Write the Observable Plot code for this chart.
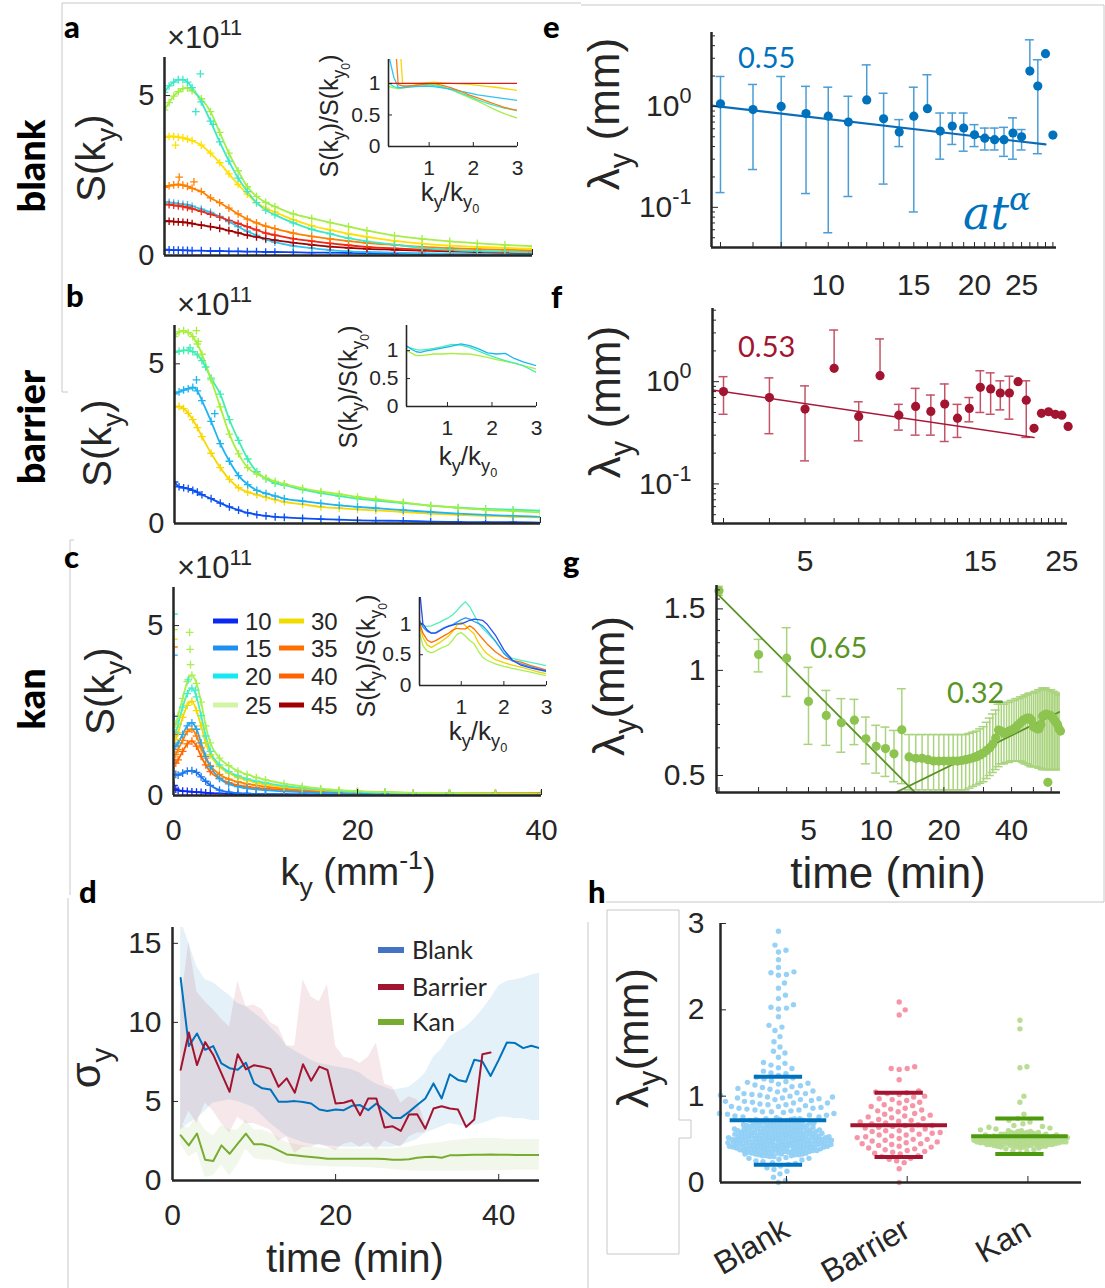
<!DOCTYPE html>
<html><head><meta charset="utf-8">
<script src="https://cdn.jsdelivr.net/npm/d3@7"></script>
<script src="https://cdn.jsdelivr.net/npm/@observablehq/plot@0.6"></script>
<style>
html,body{margin:0;padding:0;background:#fff;}
#root{position:relative;width:1105px;height:1288px;overflow:hidden;background:#fff;}
#root svg{position:absolute;overflow:visible;}
</style></head><body><div id="root"></div>
<script>
// ================= DATA =================
const kAB = [0,0.5,1,1.5,2,2.5,3,4,5,6,7,8,9,10,11,12,14,16,18,20,22,25,28,31,34,37,40];
const aBlue   = [0.18,0.18,0.17,0.17,0.16,0.16,0.15,0.15,0.14,0.14,0.13,0.13,0.12,0.12,0.11,0.11,0.1,0.09,0.09,0.08,0.07,0.06,0.05,0.05,0.04,0.04,0.03];
const aLBlue  = [1.67,1.66,1.64,1.62,1.6,1.58,1.54,1.45,1.35,1.22,1.06,0.9,0.76,0.63,0.5,0.42,0.3,0.23,0.17,0.13,0.11,0.09,0.07,0.06,0.06,0.05,0.05];
const aDark   = [1.07,1.07,1.06,1.05,1.04,1.03,1.0,0.95,0.9,0.85,0.78,0.71,0.64,0.58,0.53,0.48,0.4,0.33,0.28,0.24,0.21,0.18,0.15,0.13,0.11,0.09,0.08];
const aRed    = [1.6,1.59,1.57,1.55,1.53,1.5,1.46,1.38,1.29,1.2,1.1,1.0,0.9,0.8,0.7,0.64,0.53,0.45,0.38,0.32,0.27,0.22,0.18,0.15,0.13,0.11,0.10];
const aOrange = [2.13,2.18,2.21,2.22,2.2,2.16,2.1,2.0,1.8,1.65,1.48,1.3,1.14,1.02,0.92,0.84,0.7,0.6,0.52,0.45,0.39,0.33,0.27,0.23,0.2,0.18,0.16];
const aYellow = [3.7,3.72,3.72,3.7,3.68,3.64,3.59,3.45,3.2,2.9,2.55,2.22,1.92,1.65,1.48,1.36,1.12,0.93,0.8,0.68,0.58,0.46,0.37,0.31,0.27,0.24,0.21];
const aLime   = [4.55,4.78,4.98,5.12,5.22,5.24,5.15,4.9,4.5,3.85,3.2,2.65,2.15,1.85,1.66,1.53,1.3,1.16,1.03,0.9,0.78,0.62,0.52,0.44,0.38,0.33,0.29];
const aTeal   = [5.1,5.3,5.42,5.5,5.5,5.42,5.25,4.8,4.2,3.55,2.95,2.42,2.0,1.65,1.42,1.27,1.02,0.82,0.68,0.54,0.44,0.34,0.24,0.18,0.14,0.12,0.10];
const aExtraK = [3.9,3.4,5.3,1.2,1.6,3.2];
const aExtraV = [5.68,4.5,4.1,3.45,2.45,2.3];
const bBlue   = [1.3,1.15,1.12,1.09,1.04,0.98,0.9,0.78,0.64,0.52,0.42,0.33,0.28,0.24,0.21,0.19,0.16,0.14,0.12,0.1,0.09,0.08,0.06,0.05,0.04,0.04,0.03];
const bYellow = [3.65,3.67,3.6,3.45,3.25,3.0,2.72,2.2,1.75,1.38,1.12,0.98,0.9,0.82,0.75,0.68,0.6,0.52,0.48,0.44,0.41,0.36,0.31,0.27,0.24,0.21,0.19];
const bLBlue  = [4.06,4.12,4.18,4.22,4.26,4.15,3.85,3.2,2.5,1.95,1.5,1.22,1.04,0.94,0.86,0.78,0.7,0.63,0.57,0.52,0.48,0.42,0.36,0.31,0.27,0.24,0.21];
const bTeal   = [5.36,5.4,5.42,5.42,5.38,5.28,5.1,4.55,4.05,3.25,2.6,2.02,1.62,1.4,1.26,1.2,1.06,0.95,0.86,0.78,0.72,0.64,0.56,0.5,0.46,0.43,0.40];
const bLime   = [5.85,6.0,6.04,5.98,5.85,5.62,5.3,4.5,3.65,2.8,2.18,1.75,1.55,1.42,1.32,1.24,1.1,1.0,0.92,0.83,0.76,0.66,0.56,0.49,0.43,0.39,0.35];
const bExtraK = [2.4,2.6,1.7,3.4,2.4,4.4];
const bExtraV = [6.04,5.7,5.5,4.9,4.5,3.44];
const kC = [0.25,0.5,1,1.5,2,2.5,3,3.5,4,5,6,7,8,9,10,12,14,16,18,20,23,26,30,35,40];
const cBlue    = [0.19,0.15,0.13,0.12,0.11,0.1,0.09,0.08,0.07,0.06,0.05,0.04,0.04,0.03,0.03,0.03,0.02,0.02,0.02,0.02,0.02,0.02,0.02,0.02,0.02];
const cBlueMid = [0.62,0.6,0.66,0.72,0.73,0.68,0.55,0.42,0.3,0.16,0.1,0.07,0.06,0.05,0.05,0.04,0.04,0.04,0.03,0.03,0.03,0.03,0.03,0.03,0.03];
const cOrange35= [0.95,1.05,1.3,1.52,1.6,1.45,1.15,0.9,0.7,0.5,0.38,0.3,0.26,0.22,0.2,0.16,0.13,0.11,0.1,0.09,0.08,0.07,0.07,0.06,0.06];
const cOrange40= [1.2,1.35,1.62,1.88,1.95,1.75,1.4,1.1,0.88,0.62,0.48,0.4,0.34,0.3,0.26,0.2,0.16,0.13,0.11,0.1,0.09,0.08,0.07,0.07,0.07];
const cLBlue   = [1.45,1.55,1.8,2.05,2.14,1.95,1.55,1.15,0.85,0.5,0.34,0.26,0.21,0.18,0.16,0.12,0.1,0.08,0.07,0.06,0.05,0.05,0.04,0.04,0.04];
const cYellow  = [1.65,1.85,2.3,2.65,2.77,2.5,2.05,1.55,1.2,0.85,0.66,0.53,0.45,0.38,0.33,0.25,0.2,0.16,0.13,0.11,0.09,0.07,0.06,0.05,0.05];
const cTeal    = [1.85,2.1,2.6,3.0,3.16,2.9,2.35,1.75,1.3,0.9,0.7,0.58,0.49,0.42,0.37,0.28,0.22,0.17,0.13,0.11,0.09,0.07,0.06,0.05,0.05];
const cLime    = [2.1,2.35,2.86,3.35,3.54,3.3,2.75,2.05,1.55,1.1,0.88,0.72,0.62,0.53,0.46,0.35,0.27,0.2,0.16,0.13,0.1,0.08,0.07,0.06,0.05];
const cExtraK = [0.05,0.05,0.05,0.05,0.05,0.05,0.05,0.05,1.75,1.8,1.85,1.6,2.4];
const cExtraV = [5.34,4.88,4.6,4.37,4.13,2.33,1.8,0.3,4.8,4.3,3.85,3.4,3.1];
const insAB = [0.1,0.2,0.3,0.4,0.5,0.7,0.9,1.1,1.3,1.5,1.7,1.9,2.1,2.3,2.5,2.7,3.0];
const iaRed    = [1,1,1,1,1,1,1,1,1,1,1,1,1,1,1,1,1];
const iaYellow = [2,2,2,1.0,1.0,1.0,1.01,1.02,1.01,1.0,0.995,0.985,0.97,0.955,0.94,0.92,0.89];
const iaOrange = [2,2,0.98,0.96,0.96,0.97,0.99,1.0,0.97,0.93,0.88,0.82,0.77,0.72,0.67,0.62,0.57];
const iaLBlue  = [1.4,1.1,0.94,0.93,0.94,0.95,0.96,0.95,0.93,0.91,0.88,0.85,0.82,0.8,0.78,0.76,0.73];
const iaTeal   = [1.0,0.95,0.93,0.94,0.95,0.97,0.98,0.97,0.94,0.9,0.85,0.8,0.74,0.69,0.65,0.61,0.57];
const iaLime   = [0.95,0.93,0.92,0.93,0.95,0.98,0.99,0.98,0.95,0.9,0.84,0.78,0.72,0.65,0.58,0.52,0.45];
const ibLBlue  = [1.08,1.02,0.98,0.97,0.99,1.02,1.05,1.08,1.12,1.09,1.03,0.96,0.94,0.95,0.86,0.8,0.73];
const ibTeal   = [1.06,1.04,1.02,1.01,1.02,1.04,1.07,1.11,1.1,1.06,0.99,0.93,0.87,0.82,0.78,0.73,0.61];
const ibLime   = [1.0,0.95,0.91,0.91,0.92,0.94,0.94,0.95,0.94,0.94,0.91,0.88,0.84,0.81,0.77,0.73,0.67];
const insC = [0.03,0.1,0.2,0.3,0.4,0.5,0.6,0.7,0.8,0.9,1.0,1.1,1.2,1.3,1.4,1.5,1.6,1.8,2.0,2.2,2.4,2.6,2.8,3.0];
const icBlue   = [1.5,1.0,0.9,0.85,0.85,0.89,0.93,0.96,0.98,1.0,1.0,1.03,1.06,1.08,1.07,1.06,1.0,0.82,0.58,0.41,0.33,0.29,0.26,0.23];
const icLBlue  = [1.05,0.95,0.88,0.85,0.86,0.9,0.94,0.97,0.99,1.03,1.07,1.1,1.08,1.04,1.01,0.97,0.9,0.72,0.52,0.4,0.35,0.31,0.27,0.24];
const icTeal   = [1.0,0.97,0.96,0.97,1.0,1.03,1.07,1.1,1.15,1.22,1.3,1.36,1.28,1.15,1.02,0.93,0.86,0.72,0.53,0.44,0.41,0.38,0.35,0.32];
const icOrange = [1.0,0.85,0.74,0.7,0.73,0.77,0.81,0.85,0.9,0.93,0.92,0.92,0.97,0.92,0.84,0.76,0.68,0.55,0.45,0.41,0.38,0.33,0.29,0.25];
const icYellow = [0.95,0.78,0.66,0.62,0.66,0.7,0.75,0.8,0.88,0.98,1.03,0.97,0.9,0.84,0.7,0.6,0.52,0.42,0.37,0.33,0.3,0.26,0.22,0.19];
const icLime   = [0.84,0.65,0.56,0.53,0.56,0.6,0.63,0.66,0.74,0.83,0.86,0.8,0.73,0.68,0.56,0.46,0.41,0.35,0.31,0.28,0.25,0.22,0.19,0.16];
const legendTimes = ["10","15","20","25","30","35","40","45"];
const legendColors = ["#0A28F0","#1E90F0","#14E8F0","#D2F5A5","#F0DC00","#FF6E00","#FF6400","#A00000"];
const dTime = [1,2,3,4,5,6,7,8,9,10,11,12,13,14,15,16,17,18,19,20,21,22,23,24,25,26,27,28,29,30,31,32,33,34,35,36,37,38,39,40,41,42,43,44,45];
const blankMean = [12.8,8.5,9.3,8.26,8.5,7.4,7.1,7.0,7.45,6.14,5.83,5.76,4.98,4.98,5.02,4.96,4.87,4.49,4.4,4.49,4.45,4.72,4.77,4.45,4.87,4.41,3.96,3.96,4.34,4.77,5.19,6.14,5.19,6.72,6.36,6.25,7.63,7.52,6.61,7.63,8.73,8.69,8.37,8.52,8.37];
const blankUp   = [16.5,15,13.5,12.7,12.5,12.1,11.7,11.2,11.0,10.6,10.2,9.7,9.2,8.5,8.2,7.9,7.6,7.4,7.3,7.2,7.1,7.0,6.8,6.4,6.1,5.9,5.7,5.8,5.9,6.3,6.8,7.8,8.3,9.1,9.4,9.7,10.2,10.8,11.5,12.3,12.6,12.7,12.8,13.0,13.1];
const blankLo   = [3.2,3.6,3.9,4.4,4.9,5.0,5.1,5.0,4.8,4.6,4.1,3.6,3.2,2.8,2.6,2.4,2.3,2.25,2.2,2.15,2.1,2.1,2.1,2.1,2.1,2.1,2.1,2.2,2.4,2.6,3.0,3.2,3.4,3.6,3.5,3.4,3.5,3.6,3.8,4.0,4.0,3.9,3.9,3.8,3.8];
const barrierMean = [7.0,9.36,7.3,8.75,7.94,6.78,5.61,7.99,7.03,7.29,7.2,7.06,5.93,6.46,5.55,7.35,6.31,7.2,6.99,4.87,4.92,5.08,4.13,5.19,5.19,3.35,3.43,3.14,4.17,4.19,3.28,4.55,4.70,4.55,4.49,3.39,3.86,7.99,8.09];
const barrierUp   = [11.0,15.1,11.9,11.3,10.8,10.2,9.7,12.6,11.0,11.1,10.8,10.0,9.7,8.5,8.5,12.7,11.6,11.3,12.4,8.5,7.8,7.7,7.4,7.8,8.7,6.1,5.9,4.9,5.3,5.1,3.6];
const barrierLo   = [3.2,4.4,3.6,4.9,4.4,3.6,3.0,4.0,3.6,3.6,3.4,3.2,2.5,2.75,1.7,2.1,2.1,2.3,2.1,1.9,2.3,2.4,2.1,2.4,1.9,2.5,2.3,2.1,2.75,3.0,3.0];
const kanMean = [2.86,2.22,2.97,1.31,1.23,2.22,1.69,2.33,2.97,2.29,2.29,2.16,1.91,1.65,1.59,1.53,1.48,1.44,1.38,1.38,1.38,1.38,1.38,1.38,1.38,1.36,1.31,1.31,1.34,1.44,1.48,1.5,1.44,1.59,1.6,1.62,1.63,1.63,1.64,1.63,1.63,1.62,1.62,1.62,1.62];
const kanUp   = [3.5,3.3,4.0,3.2,2.8,3.5,3.2,3.2,3.8,3.2,3.2,3.0,2.7,2.4,2.3,2.2,2.1,2.05,2.0,2.0,2.0,2.0,2.0,2.0,2.0,2.0,2.0,2.05,2.1,2.2,2.3,2.35,2.4,2.5,2.55,2.6,2.65,2.65,2.65,2.65,2.6,2.6,2.6,2.6,2.6];
const kanLo   = [2.3,1.5,1.8,0.2,0.3,1.0,0.3,1.0,2.0,1.4,1.3,1.3,1.2,1.05,1.0,0.95,0.92,0.9,0.88,0.86,0.85,0.84,0.82,0.8,0.78,0.75,0.7,0.65,0.62,0.6,0.6,0.6,0.6,0.6,0.6,0.6,0.62,0.62,0.63,0.63,0.64,0.65,0.65,0.65,0.65];
const dGroups = ["Blank","Barrier","Kan"];
const eT  = [6,7,8,9,10,11,12,13,14,15,16,17,18,19,20,21,22,23,24,25,26,27,28,29];
const eV  = [1.06,0.93,1.0,0.85,0.80,0.70,1.16,0.755,0.557,0.80,0.95,0.57,0.64,0.61,0.524,0.485,0.468,0.468,0.545,0.50,2.24,1.59,3.33,0.52];
const eHi = [1.98,1.65,1.98,1.58,1.55,1.26,2.58,1.35,0.74,1.55,2.06,0.86,0.86,0.86,0.66,0.61,0.61,0.62,0.77,0.59,4.57,2.9,null,null];
const eLo = [0.14,0.237,0.03,0.137,0.056,0.128,null,0.17,0.40,0.09,null,0.30,0.42,0.36,0.40,0.37,0.37,0.32,0.30,0.37,null,0.34,null,null];
const eFitT = [5.75,28]; const eFitV = [1.02,0.42];
const eXLabels = [10,15,20,25];
const fT  = [3,4,5,6,7,8,9,10,11,12,13,14,15,16,17,18,19,20,21,22,23,24,25,26];
const fV  = [0.80,0.70,0.54,1.35,0.457,1.145,0.47,0.573,0.512,0.604,0.44,0.548,0.88,0.85,0.775,0.775,1.0,0.66,0.35,0.49,0.508,0.48,0.47,0.365];
const fHi = [1.12,1.09,0.91,3.2,0.636,2.62,0.60,0.86,0.74,0.95,0.60,0.70,1.28,1.22,1.02,1.13,null,1.02,null,null,null,null,null,null];
const fLo = [0.48,0.31,0.168,null,0.264,null,0.336,0.30,0.30,0.26,0.285,0.405,0.50,0.48,0.53,0.43,null,0.285,null,null,null,null,null,null];
const fFitT = [2.8,21]; const fFitV = [0.83,0.285];
const fXTicks = [3,4,5,6,7,8,9,10,11,12,13,14,15,16,17,18,19,20,21,22,23,24,25];
const fXLabels = [5,15,25];
const gT  = [2,3,4,5,6,7,8,9,10,11,12,13,14,15,16,17,18,19,20,21,22,23,24,25,26,27,28,29,30,31,32,33,34,35,36,37,38,39,40,41,42,43,44,45,46,47,48,49,50,51,52,53,54,55,56,57,58,59,60,61,62,63,64,65,66];
const gV  = [1.69,1.11,1.084,0.815,0.743,0.708,0.72,0.637,0.606,0.597,0.577,0.676,
  0.565,0.56,0.56,0.555,0.55,0.55,0.55,0.55,0.55,0.55,0.552,0.555,0.558,0.562,0.566,0.572,0.58,0.59,0.60,0.615,0.64,0.675,0.67,0.66,0.665,0.67,0.675,0.68,0.69,0.70,0.71,0.72,0.725,0.73,0.73,0.72,0.69,0.685,0.68,0.68,0.70,0.74,0.745,0.75,0.478,0.745,0.74,0.73,0.72,0.71,0.70,0.68,0.67];
const gHi = [1.74,1.227,1.325,1.02,0.876,0.83,0.826,0.735,0.696,0.688,0.673,0.886,
  0.655,0.655,0.655,0.655,0.655,0.655,0.655,0.655,0.655,0.655,0.655,0.655,0.66,0.665,0.67,0.68,0.69,0.71,0.73,0.75,0.77,0.8,0.8,0.8,0.81,0.81,0.82,0.82,0.83,0.83,0.84,0.84,0.85,0.85,0.86,0.86,0.86,0.87,0.87,0.88,0.88,0.89,0.89,0.89,0.88,0.88,0.88,0.87,0.87,0.86,0.86,0.85,0.85];
const gLo = [1.64,0.99,0.842,0.614,0.61,0.583,0.613,0.54,0.508,0.497,0.48,0.474,
  0.455,0.455,0.455,0.455,0.455,0.455,0.455,0.455,0.455,0.455,0.455,0.455,0.46,0.465,0.47,0.475,0.48,0.49,0.5,0.51,0.52,0.53,0.54,0.54,0.545,0.545,0.55,0.55,0.55,0.55,0.55,0.545,0.54,0.54,0.535,0.53,0.53,0.53,0.53,0.525,0.525,0.52,0.52,0.52,0.52,0.52,0.52,0.52,0.52,0.52,0.52,0.52,0.52];
const gFit1T = [2,14.8]; const gFit1V = [1.64,0.449];
const gFit2T = [12.4,65.2]; const gFit2V = [0.449,0.76];
const gXTicks = [2,3,4,5,6,7,8,9,10,20,30,40,50,60];
const gXLabels = [5,10,20,40];
const hNames = ["Blank","Barrier","Kan"];
const hBlankTail = [2.91,2.75,2.69,2.67,2.58,2.49,2.44,2.43,2.41,2.40,2.31,2.25,2.17,2.13,2.06,2.03,2.02,2.01,1.92,1.82,1.80,1.76,1.69,1.63,1.57,1.52,1.50,1.45,1.39,1.38,1.36,1.33,1.32,1.29,1.27,1.26,1.24,1.22,1.21,1.20,1.18,1.17,1.16,1.15,1.14,1.13,1.12,1.11,1.10,1.09,1.08,1.07,1.06,1.05,1.04,1.03,1.03,1.02,1.01,1.01,1.00,0.99,0.99,0.98,0.98,0.97,0.96,0.96,0.95,0.94,0.94,0.93,0.92,0.92,0.91,0.90,0.90,0.89,0.88,0.88,0.87,0.86,0.86,0.85,0.84,0.84,0.83,0.82,0.82,0.81,0.80,0.80,0.79,0.78,0.78,0.77,0.76,0.76,0.75];
const hBlankDense = [[0.30,2],[0.31,3],[0.32,3],[0.33,4],[0.34,4],[0.35,4],[0.36,5],[0.37,5],[0.38,5],[0.39,5],[0.40,6],[0.41,6],[0.42,6],[0.43,6],[0.44,6],[0.45,6],[0.46,6],[0.47,6],[0.48,6],[0.49,6],[0.50,6],[0.51,6],[0.52,6],[0.53,6],[0.54,6],[0.55,5],[0.56,5],[0.57,5],[0.58,5],[0.59,5],[0.60,5],[0.61,5],[0.62,5],[0.63,4],[0.64,4],[0.65,4],[0.66,4],[0.67,4],[0.68,4],[0.69,4],[0.70,4],[0.71,3],[0.72,3],[0.73,3],[0.74,3]];
const hBlankLow = [0.29,0.28,0.28,0.27,0.26,0.25,0.24,0.23,0.22,0.21,0.19,0.17,0.15,0.13,0.10,0.06,0.02,0.0];
const hBarrier = [2.09,2.0,1.94,1.34,1.32,1.32,1.31,1.19,1.06,1.05,1.04,1.03,1.02,1.0,0.99,0.97,0.96,0.95,0.93,0.92,0.9,0.89,0.88,0.86,0.85,0.84,0.83,0.82,0.8,0.79,0.78,0.77,0.76,0.75,0.74,0.73,0.72,0.71,0.7,0.69,0.68,0.67,0.66,0.66,0.65,0.64,0.63,0.62,0.61,0.6,0.6,0.59,0.58,0.57,0.56,0.55,0.55,0.54,0.53,0.52,0.51,0.5,0.5,0.49,0.48,0.47,0.46,0.45,0.45,0.44,0.43,0.42,0.41,0.4,0.39,0.38,0.37,0.36,0.35,0.34,0.33,0.31,0.3,0.28,0.27,0.25,0.23,0.16,0.0];
const hKanDense = [[0.40,2],[0.41,3],[0.42,4],[0.43,5],[0.44,6],[0.45,6],[0.46,7],[0.47,7],[0.48,7],[0.49,7],[0.50,7],[0.51,7],[0.52,6],[0.53,6],[0.54,5],[0.55,5],[0.56,4],[0.57,3],[0.58,3],[0.59,2],[0.60,2]];
const hKanSparse = [0.34,0.36,0.37,0.38,0.39,0.61,0.62,0.63,0.64,0.65,0.66,0.68,0.70,0.72,0.74,0.79,0.93,1.0,1.33,1.34,1.78,1.88];
const hMean = [0.72,0.663,0.535];
const hSdHi = [1.225,1.04,0.74];
const hSdLo = [0.206,0.294,0.33];

// ================= STYLE / HELPERS =================
const NS = "http://www.w3.org/2000/svg";
const ROOT = document.getElementById("root");
const INK = "#262626";
const TF = "'Liberation Sans', Arial, Helvetica, sans-serif";
const LF = "Lato, 'Open Sans', sans-serif";
const M = {l: 90, r: 40, t: 40, b: 90};

function base(fr, fs) {
  return {
    width: fr[2] - fr[0] + M.l + M.r,
    height: fr[3] - fr[1] + M.t + M.b,
    marginLeft: M.l, marginRight: M.r, marginTop: M.t, marginBottom: M.b,
    style: {background: "transparent", overflow: "visible", fontFamily: TF, fontSize: fs + "px", color: INK},
    color: {type: "identity"}
  };
}
function mount(svg, fr) {
  svg.style.position = "absolute";
  svg.style.left = (fr[0] - M.l) + "px";
  svg.style.top = (fr[1] - M.t) + "px";
  ROOT.appendChild(svg);
  svg.querySelectorAll("text").forEach(t => {
    const s = t.textContent; const i = s.indexOf("^");
    if (i >= 0) {
      t.textContent = "";
      const a = document.createElementNS(NS, "tspan"); a.textContent = s.slice(0, i);
      const b = document.createElementNS(NS, "tspan"); b.textContent = s.slice(i + 1);
      b.setAttribute("dy", "-0.6em"); b.setAttribute("font-size", "0.72em");
      t.append(a, b);
    }
  });
  return svg;
}
const yAx = (ticks, o = {}) => Plot.axisY(ticks, {tickSize: -6, tickPadding: 16, label: null, ...o});
const xAx = (ticks, o = {}) => Plot.axisX(ticks, {tickSize: -6, tickPadding: 30, label: null, ...o});
const blank = () => "";
function seriesRows(list, grid) {
  const rows = [];
  list.forEach(([vals, c], si) => vals.forEach((v, i) => rows.push({k: grid[i], v, c, id: si})));
  return rows;
}

// ---------- spectra a, b, c ----------
function spectrum(fr, yMax, list, grid, exK, exV, exC, showX) {
  const rows = seriesRows(list, grid);
  const ex = exK.map((k, i) => ({k, v: exV[i], c: exC[i]}));
  const p = Plot.plot({
    ...base(fr, 29),
    x: {domain: [0, 40], label: null}, y: {domain: [0, yMax], label: null},
    marks: [
      Plot.line(rows, {x: "k", y: "v", z: "id", stroke: "c", strokeWidth: 1.8, curve: "monotone-x", clip: true}),
      Plot.dot(rows, {x: "k", y: "v", stroke: "c", symbol: "plus", r: 2.6, strokeWidth: 1.3, clip: true}),
      Plot.dot(ex, {x: "k", y: "v", stroke: "c", symbol: "plus", r: 2.6, strokeWidth: 1.3, clip: true}),
      yAx([0, 5]),
      xAx([0, 20, 40], {tickFormat: showX ? (d => String(d)) : blank}),
      Plot.ruleX([0], {stroke: INK, strokeWidth: 2.5}),
      Plot.ruleY([0], {stroke: INK, strokeWidth: 2.5})
    ]
  });
  mount(p, fr);
}
function insetPlot(fr, xDom, yDom, list, grid) {
  const rows = seriesRows(list, grid);
  const p = Plot.plot({
    ...base(fr, 21),
    x: {domain: xDom, label: null}, y: {domain: yDom, label: null},
    marks: [
      Plot.line(rows, {x: "k", y: "v", z: "id", stroke: "c", strokeWidth: 1.3, clip: true}),
      yAx([0, 0.5, 1], {tickSize: -4, tickPadding: 12, tickFormat: d => String(d)}),
      xAx([1, 2, 3], {tickSize: -4, tickPadding: 18}),
      Plot.ruleX([xDom[0]], {stroke: INK, strokeWidth: 1.6}),
      Plot.ruleY([yDom[0]], {stroke: INK, strokeWidth: 1.6})
    ]
  });
  mount(p, fr);
}

spectrum([164, 57, 532, 255], 6.19,
  [[aBlue, "#0A46F0"], [aLBlue, "#30C4F0"], [aDark, "#A00000"], [aRed, "#F02814"], [aOrange, "#FF8000"], [aYellow, "#FFE000"], [aLime, "#A4EE48"], [aTeal, "#3DE8C8"]],
  kAB, aExtraK, aExtraV, ["#3DE8C8", "#3DE8C8", "#3DE8C8", "#FFE000", "#FF8000", "#FF8000"], false);
insetPlot([388, 59, 517, 146], [0.08, 3], [0, 1.38],
  [[iaLime, "#A4EE48"], [iaTeal, "#3DE8C8"], [iaLBlue, "#30C4F0"], [iaOrange, "#FF7A10"], [iaYellow, "#F5D800"], [iaRed, "#D02020"]], insAB);

spectrum([174, 325, 540, 523], 6.2,
  [[bBlue, "#0A50F0"], [bYellow, "#F8D800"], [bLBlue, "#1EB4F0"], [bTeal, "#40EEB4"], [bLime, "#A6F03C"]],
  kAB, bExtraK, bExtraV, ["#A6F03C", "#A6F03C", "#40EEB4", "#40EEB4", "#1EB4F0", "#1EB4F0"], false);
insetPlot([406, 325, 536, 406], [0.08, 3], [0, 1.45],
  [[ibLime, "#A6F03C"], [ibTeal, "#40EEB4"], [ibLBlue, "#1EB4F0"]], insAB);

spectrum([173, 587, 541, 795], 6.12,
  [[cBlue, "#0A28F0"], [cBlueMid, "#1E78EC"], [cOrange35, "#FF6A00"], [cOrange40, "#FF8400"], [cLBlue, "#2AA6F0"], [cYellow, "#F5D800"], [cTeal, "#44EEC8"], [cLime, "#A8F050"]],
  kC, cExtraK, cExtraV, ["#44EEC8", "#A8F050", "#F5D800", "#FF8400", "#2AA6F0", "#1E78EC", "#FF6A00", "#0A28F0", "#A8F050", "#A8F050", "#A8F050", "#44EEC8", "#44EEC8"], true);
insetPlot([419, 597, 546, 685], [0.02, 3], [0, 1.43],
  [[icLime, "#A8F050"], [icYellow, "#F0D000"], [icOrange, "#FF7000"], [icTeal, "#50F0C0"], [icLBlue, "#2D9BF0"], [icBlue, "#2850F0"]], insC);

// ---------- d ----------
{
  const fr = [172, 927, 539, 1180];
  const cols = ["#0072BD", "#A2142F", "#77AC30"];
  const sets = [[blankMean, blankUp, blankLo], [barrierMean, barrierUp, barrierLo], [kanMean, kanUp, kanLo]];
  const bands = [], lines = [];
  sets.forEach(([m, u, l], g) => {
    u.forEach((v, i) => bands.push({t: dTime[i], hi: v, lo: l[i], g: dGroups[g]}));
    m.forEach((v, i) => lines.push({t: dTime[i], v, g: dGroups[g]}));
  });
  const p = Plot.plot({
    ...base(fr, 30),
    x: {domain: [0, 45], label: null}, y: {domain: [0, 16], label: null},
    color: {domain: dGroups, range: cols},
    marks: [
      Plot.areaY(bands, {x: "t", y1: "lo", y2: "hi", z: "g", fill: "g", fillOpacity: 0.1, clip: true}),
      Plot.line(lines, {x: "t", y: "v", z: "g", stroke: "g", strokeWidth: 2, clip: true}),
      yAx([0, 5, 10, 15], {tickPadding: 17}),
      xAx([0, 20, 40], {tickPadding: 29}),
      Plot.ruleX([0], {stroke: INK, strokeWidth: 2.5}),
      Plot.ruleY([0], {stroke: INK, strokeWidth: 2.5})
    ]
  });
  mount(p, fr);
}

// ---------- e, f, g ----------
function errPlot(fr, xDom, yDom, T, V, Hi, Lo, fits, cols, yMaj, yFmt, yMin, xTicks, xLabels, yPad) {
  const rows = T.map((t, i) => ({t, v: V[i]}));
  const bars = [], caps = [];
  T.forEach((t, i) => {
    if (Hi[i] != null || Lo[i] != null) bars.push({t, y1: Lo[i] != null ? Lo[i] : V[i], y2: Hi[i] != null ? Hi[i] : V[i]});
    if (Hi[i] != null) caps.push({t, y: Hi[i]});
    if (Lo[i] != null) caps.push({t, y: Lo[i]});
  });
  const capF = Math.pow(xDom[1] / xDom[0], 4.5 / (fr[2] - fr[0]));
  const fitRows = [];
  fits.forEach(([ft, fv], j) => ft.forEach((t, i) => fitRows.push({t, v: fv[i], id: j})));
  const p = Plot.plot({
    ...base(fr, 30),
    x: {type: "log", domain: xDom, label: null}, y: {type: "log", domain: yDom, label: null},
    marks: [
      Plot.ruleX(bars, {x: "t", y1: "y1", y2: "y2", stroke: cols.bar, strokeWidth: 1.5, clip: true}),
      Plot.ruleY(caps, {y: "y", x1: d => d.t / capF, x2: d => d.t * capF, stroke: cols.bar, strokeWidth: 1.5, clip: true}),
      Plot.line(fitRows, {x: "t", y: "v", z: "id", stroke: cols.line, strokeWidth: cols.lw, clip: true}),
      Plot.dot(rows, {x: "t", y: "v", fill: cols.dot, r: 4.6}),
      yAx(yMaj, {tickSize: -7, tickPadding: yPad, tickFormat: yFmt}),
      yAx(yMin, {tickSize: -4, tickFormat: blank}),
      xAx(xTicks, {tickSize: -5, tickFormat: blank}),
      // x tick labels placed on the log x scale (text marks avoid the log-axis label thinning)
      Plot.text(xLabels, {x: d => d, text: d => String(d), frameAnchor: "bottom", lineAnchor: "top", dy: 26, fill: INK}),
      Plot.ruleX([xDom[0]], {stroke: INK, strokeWidth: 2.5}),
      Plot.ruleY([yDom[0]], {stroke: INK, strokeWidth: 2.5})
    ]
  });
  mount(p, fr);
}
const decFmt = d => d === 1 ? "10^0" : "10^-1";
const logMinor = [0.05,0.06,0.07,0.08,0.09,0.2,0.3,0.4,0.5,0.6,0.7,0.8,0.9,2,3,4,5];
errPlot([711, 32, 1056, 247], [5.75, 29.5], [0.04, 5.4], eT, eV, eHi, eLo, [[eFitT, eFitV]],
  {dot: "#0072BD", bar: "#4B9DD6", line: "#0A6CB8", lw: 2.2}, [0.1, 1], decFmt, logMinor,
  eT, eXLabels, 27);
errPlot([712, 308, 1067, 523], [2.8, 25.9], [0.041, 5.2], fT, fV, fHi, fLo, [[fFitT, fFitV]],
  {dot: "#A2142F", bar: "#C25468", line: "#A8183A", lw: 1.6}, [0.1, 1], decFmt, logMinor,
  fXTicks, fXLabels, 28);
errPlot([716, 585, 1060, 792], [1.95, 66], [0.447, 1.75], gT, gV, gHi, gLo, [[gFit1T, gFit1V], [gFit2T, gFit2V]],
  {dot: "#8DC450", bar: "#AAD37E", line: "#5A9424", lw: 1.8}, [0.5, 1, 1.5], d => String(d),
  [0.6,0.7,0.8,0.9,1.1,1.2,1.3,1.4,1.6,1.7],
  gXTicks, gXLabels, 18);

// ---------- h ----------
{
  const fr = [720, 923, 1081, 1182];
  const xDom = [0.52, 3.51];
  const pxY = (fr[3] - fr[1]) / 3, pxX = (fr[2] - fr[0]) / (xDom[1] - xDom[0]);
  function swarm(vals, cx, dOf) {
    const pts = vals.map(v => ({v, py: v * pxY, d: dOf(v)})).sort((a, b) => a.py - b.py);
    const placed = [];
    for (const p of pts) {
      let off = 0;
      const d = p.d;
      for (let s = 0; s < 800; s++) {
        const cand = (s % 2 ? 1 : -1) * Math.ceil(s / 2) * 0.5;
        let ok = true;
        for (let j = placed.length - 1; j >= 0; j--) {
          const q = placed[j]; const dy = p.py - q.py;
          if (dy >= 9) break;
          const dd = Math.max(d, Math.min(q.d, d + 2));
          if (dy >= dd) continue;
          const dx = cand - q.px;
          if (dx * dx + dy * dy < dd * dd) { ok = false; break; }
        }
        if (ok) { off = cand; break; }
      }
      p.px = off; placed.push(p);
    }
    return pts.map(p => ({x: cx + p.px / pxX, y: p.v}));
  }
  const expand = pairs => pairs.flatMap(([v, n]) => Array(n).fill(v));
  const blankVals = [...hBlankTail, ...expand(hBlankDense), ...hBlankLow];
  const kanVals = [...expand(hKanDense), ...hKanSparse];
  const dots = [
    ...swarm(blankVals, 1, v => v >= 0.755 ? 7.6 : v < 0.295 ? 7 : 3.6).map(d => ({...d, c: "#8ECEF5"})),
    ...swarm(hBarrier, 2, v => 7.6).map(d => ({...d, c: "#F58CA0"})),
    ...swarm(kanVals, 3, v => (v > 0.605 || v < 0.395) ? 7 : 3.2).map(d => ({...d, c: "#B4DA8C"}))
  ];
  const lineCols = ["#0072BD", "#A2142F", "#4E9A0E"];
  const stats = hMean.map((m, i) => ({i: i + 1, m, hi: hSdHi[i], lo: hSdLo[i], c: lineCols[i]}));
  const p = Plot.plot({
    ...base(fr, 30),
    x: {domain: xDom, label: null}, y: {domain: [0, 3], label: null},
    marks: [
      Plot.dot(dots, {x: "x", y: "y", fill: "c", r: 2.7, fillOpacity: 0.92}),
      Plot.ruleY(stats, {y: "m", x1: d => d.i - 0.4, x2: d => d.i + 0.4, stroke: "c", strokeWidth: 4}),
      Plot.ruleY(stats, {y: "hi", x1: d => d.i - 0.2, x2: d => d.i + 0.2, stroke: "c", strokeWidth: 4}),
      Plot.ruleY(stats, {y: "lo", x1: d => d.i - 0.2, x2: d => d.i + 0.2, stroke: "c", strokeWidth: 4}),
      yAx([0, 1, 2, 3], {tickPadding: 22, tickFormat: d => String(d)}),
      xAx([1, 2, 3], {tickFormat: d => hNames[d - 1], tickRotate: -30, tickPadding: 50, dx: 8, fontSize: 32}),
      Plot.ruleX([xDom[0]], {stroke: INK, strokeWidth: 2.5}),
      Plot.ruleY([0], {stroke: INK, strokeWidth: 2.5})
    ]
  });
  mount(p, fr);
}

// ================= OVERLAY TEXT =================
const ov = d3.select(ROOT).append("svg").attr("width", 1105).attr("height", 1288)
  .style("left", "0px").style("top", "0px").style("pointer-events", "none");
function rich(sel, str, size) {
  const stack = []; let cur = {size, off: 0}; let buf = ""; let last = 0;
  const flush = () => { if (!buf) return; sel.append("tspan").attr("font-size", cur.size).attr("dy", cur.off - last).text(buf); last = cur.off; buf = ""; };
  for (let i = 0; i < str.length; i++) {
    const ch = str[i];
    if ((ch === "_" || ch === "^") && str[i + 1] === "{") {
      flush(); stack.push(cur);
      cur = {size: cur.size * 0.7, off: ch === "_" ? cur.off + cur.size * 0.28 : cur.off - cur.size * 0.42};
      i++;
    } else if (ch === "}") { flush(); cur = stack.pop(); }
    else buf += ch;
  }
  flush();
}
function T(str, x, y, o = {}) {
  const size = o.size || 30;
  const t = ov.append("text")
    .attr("transform", `translate(${x},${y})` + (o.rot ? ` rotate(${o.rot})` : ""))
    .attr("text-anchor", o.anchor || "start")
    .attr("font-family", o.family || TF)
    .attr("font-weight", o.weight || 400)
    .attr("font-style", o.italic ? "italic" : "normal")
    .attr("fill", o.fill || INK);
  rich(t, str, size);
  return t;
}
[[62,3,581,3],[581,5,1104,5],[62,3,62,392],[62,392,68,392],[70,540,70,895],[70,540,74,540],[68,898,68,1288],
 [1104,5,1104,902],[606,902,1104,902],[588,922,588,1288],
 [607,910,679,910],[607,910,607,1254],[607,1254,679,1254],[679,910,679,1120],[679,1138,679,1254],
 [679,1120,691,1120],[679,1138,691,1138],[691,1120,691,1138]]
  .forEach(([x1, y1, x2, y2]) => ov.append("line").attr("x1", x1).attr("y1", y1).attr("x2", x2).attr("y2", y2)
    .attr("stroke", "#C8C8C8").attr("stroke-width", 1));

[["a",64,38],["b",66,307],["c",64,568],["d",79,903],["e",543,38],["f",551,308],["g",563,573],["h",588,903]]
  .forEach(([s, x, y]) => T(s, x, y, {size: 31, weight: 900, family: LF, fill: "#000"}));
[["blank",166],["barrier",427],["kan",699]].forEach(([s, y]) => T(s, 45, y, {size: 38, weight: 900, family: LF, fill: "#000", rot: -90, anchor: "middle"}));
[[167,48],[177,315],[177,578]].forEach(([x, y]) => T("×10^{11}", x, y, {size: 31}));
T("S(k_{y})", 105, 158, {size: 40, rot: -90, anchor: "middle"});
T("S(k_{y})", 111, 443, {size: 40, rot: -90, anchor: "middle"});
T("S(k_{y})", 114, 691, {size: 40, rot: -90, anchor: "middle"});
T("σ_{y}", 100, 1068, {size: 42, rot: -90, anchor: "middle"});
T("λ_{y} (mm)", 619, 114, {size: 44, rot: -90, anchor: "middle"});
T("λ_{y} (mm)", 620, 402, {size: 44, rot: -90, anchor: "middle"});
T("λ_{y}(mm)", 624, 686, {size: 44, rot: -90, anchor: "middle"});
T("λ_{y}(mm)", 648, 1038, {size: 44, rot: -90, anchor: "middle"});
T("S(k_{y})/S(k_{y_{0}})", 338, 116, {size: 25, rot: -90, anchor: "middle"});
T("S(k_{y})/S(k_{y_{0}})", 357, 387, {size: 25, rot: -90, anchor: "middle"});
T("S(k_{y})/S(k_{y_{0}})", 375, 656, {size: 25, rot: -90, anchor: "middle"});
T("k_{y}/k_{y_{0}}", 450, 201, {size: 26, anchor: "middle"});
T("k_{y}/k_{y_{0}}", 468, 465, {size: 26, anchor: "middle"});
T("k_{y}/k_{y_{0}}", 478, 740, {size: 26, anchor: "middle"});
T("k_{y} (mm^{-1})", 358, 885, {size: 38, anchor: "middle"});
T("time (min)", 355, 1272, {size: 40, anchor: "middle"});
T("time (min)", 888, 888, {size: 44, anchor: "middle"});
T("0.55", 738, 68, {size: 29, family: LF, fill: "#0072BD"});
T("at^{α}", 963, 229, {size: 46, family: "'DejaVu Serif', 'Liberation Serif', serif", italic: true, fill: "#0072BD"});
T("0.53", 738, 357, {size: 29, family: LF, fill: "#A2142F"});
T("0.65", 810, 658, {size: 29, family: LF, fill: "#5A9424"});
T("0.32", 947, 703, {size: 29, family: LF, fill: "#5A9424"});
legendTimes.forEach((s, i) => {
  const col = Math.floor(i / 4), row = i % 4;
  const y = [621, 648, 676, 705][row];
  const x0 = col ? 279 : 213;
  ov.append("line").attr("x1", x0).attr("x2", x0 + 25).attr("y1", y).attr("y2", y).attr("stroke", legendColors[i]).attr("stroke-width", 5);
  T(s, x0 + 32, y + 9, {size: 24});
});
const dLegendCols = ["#4472C4", "#A2142F", "#77AC30"];
dGroups.forEach((s, i) => {
  const y = [950, 987, 1022][i];
  ov.append("line").attr("x1", 378).attr("x2", 404).attr("y1", y).attr("y2", y).attr("stroke", dLegendCols[i]).attr("stroke-width", 6);
  T(s, 412, y + 9, {size: 25, family: LF});
});
</script></body></html>
